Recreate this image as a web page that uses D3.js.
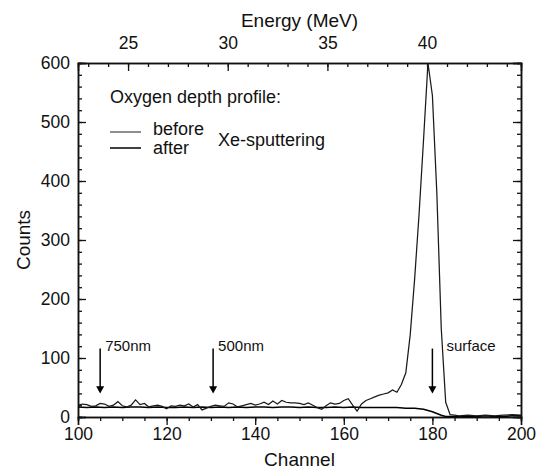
<!DOCTYPE html>
<html>
<head>
<meta charset="utf-8">
<script src="https://cdn.jsdelivr.net/npm/d3@7"></script>
<style>
    body { margin: 0; background: #fff; }
    text { font-family: "Liberation Sans", Arial, sans-serif; fill: #111; }
</style>
</head>
<body>
<div id="chart"></div>
<script>
// before Xe-sputtering (surface peak)
var beforeChannels = [100,101,102,103,104,105,106,107,108,109,110,111,112,113,114,115,116,117,118,119,
    120,121,122,123,124,125,126,127,128,129,130,131,132,133,134,135,136,137,138,139,
    140,141,142,143,144,145,146,147,148,149,150,151,152,153,154,155,156,157,158,159,
    160,161,162,163,164,165,166,167,168,169,170,171,172,173,174,175,176,177,178,179,
    180,181,182,183,184,185,186,188,190,192,194,196,198,200];
var beforeCounts = [20,22,21,18,19,23,22,18,20,26,19,17,20,29,21,23,17,19,20,18,
    14,19,18,20,19,22,17,21,12,15,18,20,19,18,24,22,17,19,21,23,
    20,22,25,21,27,22,28,25,24,24,23,21,24,20,16,13,19,24,22,23,
    28,31,20,10,22,28,31,34,37,39,41,46,42,55,75,140,235,345,470,600,
    545,380,150,25,4,3,2,3,2,3,2,3,4,3];

// after Xe-sputtering (flat)
var afterChannels = [100,102,104,106,108,110,112,114,116,118,120,122,124,126,128,130,132,134,136,138,
    140,142,144,146,148,150,152,154,156,158,160,162,164,166,168,170,172,174,176,178,
    180,181,182,183,184,186,188,190,192,194,196,198,200];
var afterCounts = [17,16,17,16,17,16,17,17,16,17,16,16,17,16,17,16,17,16,17,16,
    17,17,16,17,17,16,17,16,16,17,16,17,16,16,16,16,16,15,15,13,
    9,6,3,1,1,1,1,1,2,1,1,2,2];

var channelTicks = [100, 120, 140, 160, 180, 200];
var countTicks = [0, 100, 200, 300, 400, 500, 600];
var energyTicks = [25, 30, 35, 40];

// markers: depth label, channel
var markerLabels = ["750nm", "500nm", "surface"];
var markerChannels = [105, 130.5, 180];

function drawChart() {
    var margin = {top: 63, left: 78, right: 17, bottom: 53};
    var w = 538 - margin.left - margin.right;
    var h = 470 - margin.top - margin.bottom;

    var svg = d3.select("#chart")
                .append("svg")
                .attr("width", 538)
                .attr("height", 470);

    var g = svg.append("g")
                .attr("transform", "translate(" + margin.left + "," + margin.top + ")");

    var xScale = d3.scaleLinear()
                .domain([100, 200])
                .range([0, w]);

    var yScale = d3.scaleLinear()
                .domain([0, 600])
                .range([h, 0]);

    // energy is linear in channel: 25 MeV ~ ch 111.3, 4.5 ch per MeV
    var toEnergy = function(ch) { return 25 + (ch - 111.3) / 4.5; };
    var eScale = d3.scaleLinear()
                .domain([toEnergy(100), toEnergy(200)])
                .range([0, w]);

    // bottom axis, ticks outward
    g.append("g")
        .attr("transform", "translate(0," + h + ")")
        .call(d3.axisBottom(xScale).tickValues(d3.range(100, 201, 5)).tickSize(4).tickFormat(""));
    g.append("g")
        .attr("class", "xmajor")
        .attr("transform", "translate(0," + h + ")")
        .call(d3.axisBottom(xScale).tickValues(channelTicks).tickSize(8).tickPadding(3));

    // left axis, ticks inward
    g.append("g")
        .call(d3.axisLeft(yScale).tickValues(d3.range(0, 601, 20)).tickSize(-4).tickFormat(""));
    g.append("g")
        .attr("class", "ymajor")
        .call(d3.axisLeft(yScale).tickValues(countTicks).tickSize(-8).tickPadding(8));

    // right axis, ticks inward, no labels
    g.append("g")
        .attr("transform", "translate(" + w + ",0)")
        .call(d3.axisRight(yScale).tickValues(d3.range(0, 601, 20)).tickSize(-4).tickFormat(""));
    g.append("g")
        .attr("transform", "translate(" + w + ",0)")
        .call(d3.axisRight(yScale).tickValues(countTicks).tickSize(-8).tickFormat(""));

    // top energy axis, ticks inward
    g.append("g")
        .call(d3.axisTop(eScale).tickValues(d3.range(23, 45, 1)).tickSize(-4).tickFormat(""));
    g.append("g")
        .attr("class", "emajor")
        .call(d3.axisTop(eScale).tickValues(energyTicks).tickSize(-8).tickPadding(14));

    svg.selectAll(".domain").attr("stroke", "#111").attr("stroke-width", 1.5);
    svg.selectAll(".tick line").attr("stroke", "#111").attr("stroke-width", 1.3);
    svg.selectAll(".tick text")
        .style("font-family", "'Liberation Sans', Arial, sans-serif")
        .style("font-size", "17.5px")
        .attr("fill", "#111");

    // data lines
    var line = d3.line()
                .x(function(d) { return xScale(d[0]); })
                .y(function(d) { return yScale(d[1]); });

    g.append("path")
        .datum(d3.zip(afterChannels, afterCounts))
        .attr("d", line)
        .attr("fill", "none")
        .attr("stroke", "#000")
        .attr("stroke-width", 1.5);

    g.append("path")
        .datum(d3.zip(beforeChannels, beforeCounts))
        .attr("d", line)
        .attr("fill", "none")
        .attr("stroke", "#1a1a1a")
        .attr("stroke-width", 1.25);

    // depth markers
    markerChannels.forEach(function(ch, i) {
        var x = xScale(ch);
        g.append("line")
            .attr("x1", x).attr("x2", x)
            .attr("y1", yScale(116)).attr("y2", yScale(50))
            .attr("stroke", "#000")
            .attr("stroke-width", 1.5);
        g.append("path")
            .attr("d", "M" + (x - 4) + "," + yScale(52) + "L" + (x + 4) + "," + yScale(52) + "L" + x + "," + yScale(40) + "Z")
            .attr("fill", "#000");
        g.append("text")
            .attr("x", x + (i == 2 ? 14 : 5))
            .attr("y", yScale(116) + 2)
            .style("font-size", "15px")
            .text(markerLabels[i]);
    });

    // legend
    g.append("text")
        .attr("x", 32).attr("y", 40)
        .style("font-size", "18px")
        .text("Oxygen depth profile:");
    g.append("line")
        .attr("x1", 32).attr("x2", 63).attr("y1", 69).attr("y2", 69)
        .attr("stroke", "#444").attr("stroke-width", 1.2);
    g.append("line")
        .attr("x1", 32).attr("x2", 63).attr("y1", 85).attr("y2", 85)
        .attr("stroke", "#000").attr("stroke-width", 1.5);
    g.append("text")
        .attr("x", 75).attr("y", 72)
        .style("font-size", "18px")
        .text("before");
    g.append("text")
        .attr("x", 75).attr("y", 91)
        .style("font-size", "18px")
        .text("after");
    g.append("text")
        .attr("x", 140).attr("y", 83)
        .style("font-size", "18px")
        .text("Xe-sputtering");

    // axis titles
    svg.append("text")
        .attr("x", margin.left + w / 2).attr("y", 466)
        .attr("text-anchor", "middle")
        .style("font-size", "19px")
        .text("Channel");
    svg.append("text")
        .attr("x", margin.left + w / 2).attr("y", 27)
        .attr("text-anchor", "middle")
        .style("font-size", "19px")
        .text("Energy (MeV)");
    svg.append("text")
        .attr("transform", "translate(30," + (margin.top + h / 2) + ") rotate(-90)")
        .attr("text-anchor", "middle")
        .style("font-size", "19px")
        .text("Counts");
}

drawChart();
</script>
</body>
</html>
